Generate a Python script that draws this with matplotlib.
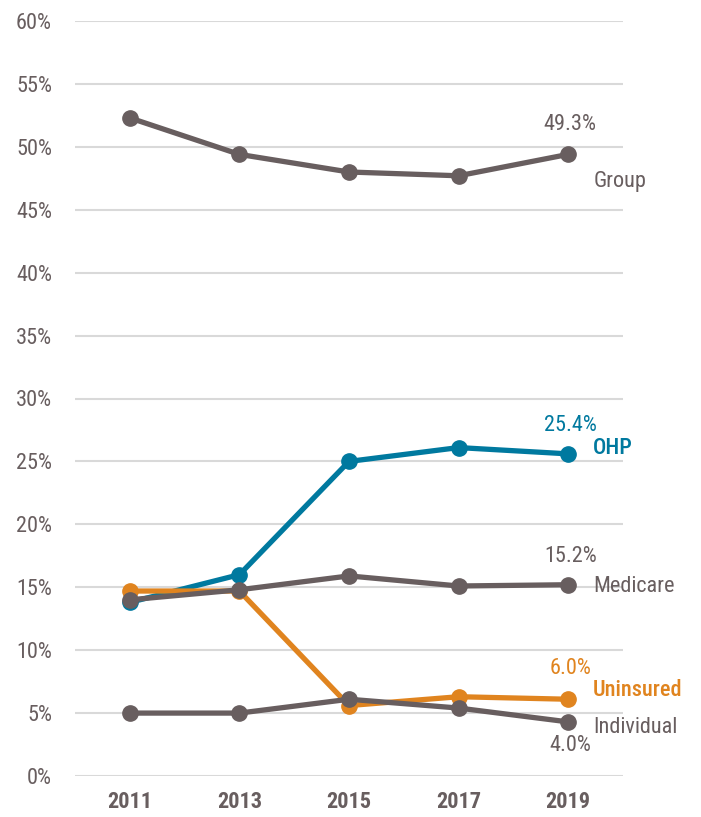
import matplotlib
matplotlib.use("Agg")
import matplotlib.pyplot as plt

years = ["2011", "2013", "2015", "2017", "2019"]
group = [52.3, 49.4, 48.0, 47.7, 49.4]
ohp = [13.8, 16.0, 25.0, 26.1, 25.6]
medicare = [14.0, 14.8, 15.9, 15.1, 15.2]
uninsured = [14.7, 14.7, 5.6, 6.3, 6.1]
individual = [5.0, 5.0, 6.1, 5.4, 4.3]
end_labels = ["49.3%", "25.4%", "15.2%", "6.0%", "4.0%"]

GRAY = "#685e5f"
BLUE = "#00799f"
ORANGE = "#e0841f"
GRID = "#d9d9d9"

plt.rcParams["font.family"] = ["Roboto Condensed", "Archivo Narrow",
                               "PT Sans Narrow", "DejaVu Sans"]

fig = plt.figure(figsize=(7.01, 8.17), dpi=100)
ax = fig.add_axes([75 / 701, 1 - 776 / 817, 548 / 701, 755 / 817])

x = list(range(len(years)))

# colored series first, gray series drawn on top
series = [
    (ohp, BLUE, "OHP", end_labels[1], 28, 6),
    (uninsured, ORANGE, "Uninsured", end_labels[3], 31, 9),
    (group, GRAY, "Group", end_labels[0], 30, -27),
    (medicare, GRAY, "Medicare", end_labels[2], 28, -2),
    (individual, GRAY, "Individual", end_labels[4], -24, -6),
]

for vals, col, name, lab, val_dy, name_dy in series:
    ax.plot(x, vals, color=col, lw=3.8, marker="o", ms=11, zorder=3,
            solid_capstyle="round")
    ax.annotate(lab, xy=(x[-1], vals[-1]),
                xytext=(2, val_dy), textcoords="offset pixels",
                ha="center", va="center", fontsize=16, color=col)
    ax.annotate(name, xy=(x[-1], vals[-1]),
                xytext=(25, name_dy), textcoords="offset pixels",
                ha="left", va="center", fontsize=16, color=col,
                fontweight="medium" if col != GRAY else "normal")

ax.set_xlim(-0.5, 4.5)
ax.set_ylim(0, 60)
ax.set_yticks(range(0, 61, 5))
ax.set_yticklabels([f"{v}%" for v in range(0, 61, 5)])
ax.set_xticks(x)
ax.set_xticklabels(years, fontweight="bold")
ax.grid(axis="y", color=GRID, lw=1.5, zorder=0)
ax.set_axisbelow(True)
for s in ax.spines.values():
    s.set_visible(False)
ax.tick_params(length=0, labelsize=16, colors=GRAY)
ax.tick_params(axis="y", pad=16.5)
ax.tick_params(axis="x", pad=11)

fig.savefig("out.png", dpi=100)
